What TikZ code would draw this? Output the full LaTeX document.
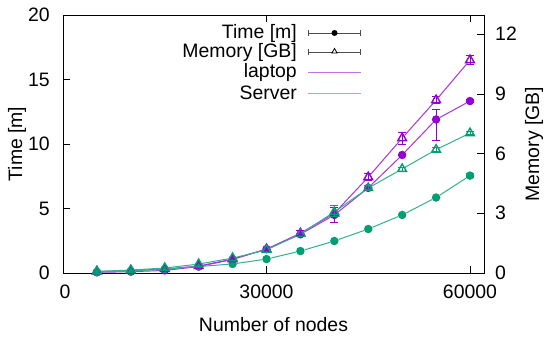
\documentclass[tikz,border=0pt]{standalone}
\usepackage{fontspec}
\setmainfont{Liberation Sans}
\usetikzlibrary{arrows.meta}
\usetikzlibrary{shapes.geometric}
\definecolor{laptopc}{RGB}{148,0,211}
\definecolor{serverc}{RGB}{0,158,115}

\begin{document}
\begin{tikzpicture}[x=1bp, y=1bp, font=\fontsize{19.5}{23}\selectfont,
      dot/.style={circle, fill, inner sep=0pt, minimum size=8.5bp},
      tri/.style={regular polygon, regular polygon sides=3, draw, line width=1.4bp, inner sep=0pt, minimum size=10bp},
      errbar/.style={line width=1bp, {Bar[width=8bp]}-{Bar[width=8bp]}},
      ticmark/.style={line width=0.8bp},
      ticlabel/.style={inner sep=0pt},
      laptop line/.style={laptopc!80!white, line width=1bp},
      server line/.style={serverc!80!white, line width=1bp},
      ]
        \useasboundingbox (-63,-64) rectangle (481,273);

        % axes and ticks
        \draw[line width=1bp] (0,0) rectangle (421,258);
        \foreach \t in {0,5,...,20}
          {
            \draw[ticmark] (0,\t*12.9) -- ++(7,0);
            \node[ticlabel, anchor=east] (yl-\t) at (-13,\t*12.9) {\t};
          }
        \foreach \t in {0,3,...,12}
          {
            \draw[ticmark] (421,\t*19.9) -- ++(-7,0);
            \node[ticlabel, anchor=west] (y2l-\t) at (432,\t*19.9) {\t};
          }
        \foreach \t in {0,30,60}
          {
            \draw[ticmark] (\t*6.7833,0) -- ++(0,7);
            \draw[ticmark] (\t*6.7833,258) -- ++(0,-7);
          }
        \node (xl-0) at (2,-19) {0};
        \node (xl-1) at (203.5,-19) {30000};
        \node (xl-2) at (407,-19) {60000};

        \node[rotate=90] (ylab) at (-46,129) {Time [m]};
        \node[rotate=90] (y2lab) at (471,129) {Memory [GB]};
        \node (xlab) at (210.5,-52) {Number of nodes};

        % legend
        \node[ticlabel, anchor=east] (k-1) at (234,240) {Time [m]};
        \node[ticlabel, anchor=east] (k-2) at (234,221) {Memory [GB]};
        \node[ticlabel, anchor=east] (k-3) at (234,201) {laptop};
        \node[ticlabel, anchor=east] (k-4) at (234,180) {Server};
        \foreach \r/\y in {1/240,2/221,3/201,4/180}
          {
            \coordinate (ka-\r) at (245,\y);
            \coordinate (kb-\r) at (298,\y);
          }
        \draw[black!70, line width=0.9bp, {Bar[width=6bp]}-{Bar[width=6bp]}] (ka-1) -- (kb-1);
        \draw[black!70, line width=0.9bp, {Bar[width=6bp]}-{Bar[width=6bp]}] (ka-2) -- (kb-2);
        \node[dot, black, minimum size=6bp] (km-1) at (271.5,240) {};
        \node[tri, black, fill=white, line width=0.8bp, minimum size=6bp] (km-2) at (271.5,221.5) {};
        \draw[laptopc!55!white, line width=1bp] (ka-3) -- (kb-3);
        \draw[serverc!55!white, line width=1bp] (ka-4) -- (kb-4);

        % time, left axis
        \begin{scope}[x=6.7833bp, y=12.9bp]
          \foreach \x/\y [count=\i] in {5/0.05,10/0.1,15/0.2,20/0.5,25/1.05,30/1.85,35/3.0,40/4.5,45/6.6,50/9.15,55/11.9,60/13.33}
            \node[dot, laptopc] (lt-\i) at (\x,\y) {};
          \foreach \x/\y [count=\i] in {5/0.08,10/0.15,15/0.3,20/0.5,25/0.7,30/1.08,35/1.7,40/2.48,45/3.41,50/4.5,55/5.85,60/7.55}
            \node[dot, serverc] (st-\i) at (\x,\y) {};
          \foreach \x/\lo/\hi in {40/3.9/5.1,55/10.2/12.7,60/13.2/13.45}
            \draw[errbar, laptopc] (\x,\lo) -- (\x,\hi);
          \foreach \x/\lo/\hi in {60/7.35/7.75}
            \draw[errbar, serverc] (\x,\lo) -- (\x,\hi);
        \end{scope}

        % memory, right axis
        \begin{scope}[x=6.7833bp, y=19.9bp]
          \foreach \x/\y [count=\i] in {5/0.08,10/0.12,15/0.2,20/0.35,25/0.7,30/1.2,35/2.0,40/3.0,45/4.82,50/6.78,55/8.69,60/10.7}
            \node[tri, laptopc] (lm-\i) at (\x,\y) {};
          \foreach \x/\y [count=\i] in {5/0.08,10/0.15,15/0.25,20/0.45,25/0.75,30/1.16,35/1.96,40/3.07,45/4.27,50/5.23,55/6.2,60/7.03}
            \node[tri, serverc] (sm-\i) at (\x,\y) {};
          \foreach \x/\lo/\hi in {35/1.85/2.15,45/4.62/5.02,50/6.45/7.1,55/8.49/8.89,60/10.45/10.95}
            \draw[errbar, laptopc] (\x,\lo) -- (\x,\hi);
          \foreach \x/\lo/\hi in {40/2.8/3.4,45/4.15/4.4,50/5.1/5.35,55/6.1/6.35,60/6.95/7.13}
            \draw[errbar, serverc] (\x,\lo) -- (\x,\hi);
        \end{scope}

        \foreach \i [evaluate=\i as \j using int(\i+1)] in {1,...,11}
          {
            \draw[laptop line] (lt-\i) -- (lt-\j);
            \draw[laptop line] (lm-\i) -- (lm-\j);
            \draw[server line] (st-\i) -- (st-\j);
            \draw[server line] (sm-\i) -- (sm-\j);
          }

        \end{tikzpicture}
\end{document}
